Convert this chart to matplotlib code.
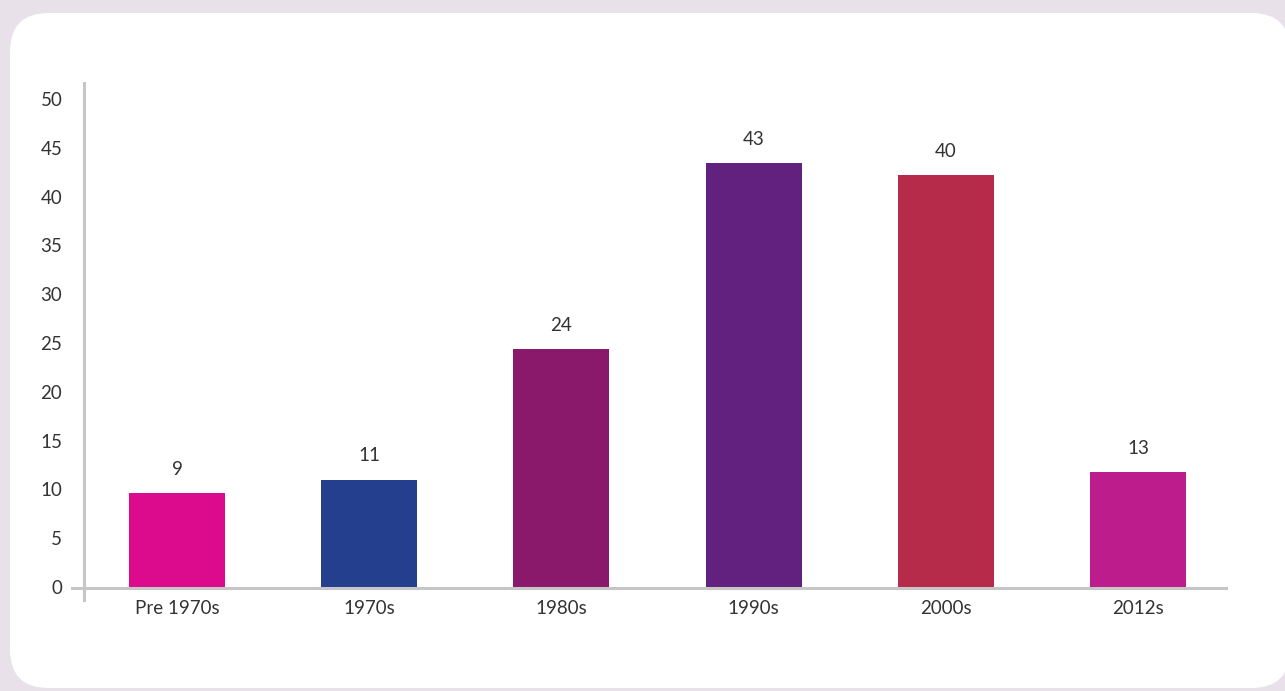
import matplotlib
matplotlib.use("Agg")
import matplotlib.pyplot as plt
from matplotlib.patches import FancyBboxPatch
from matplotlib.lines import Line2D

categories = ["Pre 1970s", "1970s", "1980s", "1990s", "2000s", "2012s"]
heights = [9.6, 11.0, 24.4, 43.4, 42.2, 11.8]
value_labels = ["9", "11", "24", "43", "40", "13"]
colors = ["#DC0A8C", "#233F8E", "#8A186B", "#62217E", "#B72B4A", "#BC1C8C"]
yticks = [0, 5, 10, 15, 20, 25, 30, 35, 40, 45, 50]

W, H = 1285, 691
fig = plt.figure(figsize=(W / 100, H / 100), dpi=100)
fig.patch.set_facecolor("#E8E1EA")

# white rounded card
card = FancyBboxPatch((10 / W, 3 / H), (1290 - 10) / W, (678 - 3) / H,
                      boxstyle="round,pad=0,rounding_size=0.03",
                      transform=fig.transFigure, facecolor="white",
                      edgecolor="none", mutation_aspect=W / H, zorder=-10)
fig.patches.append(card)

font = dict(family=["Lato", "DejaVu Sans"], color="#333333", fontweight="normal")
fs = 13.5

left, right = 72 / W, 1226 / W
bottom, top = 1 - 587 / H, 1 - 99 / H
ax = fig.add_axes([left, bottom, right - left, top - bottom])
ax.set_zorder(5)
ax.set_facecolor("none")
x = list(range(len(categories)))
ax.bar(x, heights, width=0.5, color=colors, zorder=2)
ax.set_xlim(-0.546, 5.458)
ax.set_ylim(0, 50)

for xi, h, lab in zip(x, heights, value_labels):
    ax.annotate(lab, (xi, h), xytext=(0, 11), textcoords="offset points",
                ha="center", va="bottom", fontsize=fs, **font)

for s in ax.spines.values():
    s.set_visible(False)
ax.set_xticks(x)
ax.set_xticklabels(categories, fontsize=fs, **font)
ax.set_yticks(yticks)
ax.set_yticklabels([str(t) for t in yticks], fontsize=fs, **font)
ax.tick_params(axis="both", length=0)
ax.tick_params(axis="x", pad=9)
ax.tick_params(axis="y", pad=7)

# axis lines
y_axis_x = (84 - 72) / (1226 - 72)
ax.add_line(Line2D([y_axis_x, y_axis_x], [-13 / 488, 1 + 16 / 488],
                   transform=ax.transAxes, color="#C6C6C6", lw=2.2, clip_on=False, zorder=3))
ax.add_line(Line2D([0, 1], [-1 / 488, -1 / 488], transform=ax.transAxes,
                   color="#C6C6C6", lw=2.2, clip_on=False, zorder=3))

fig.savefig("out.png", dpi=100, facecolor=fig.get_facecolor())
